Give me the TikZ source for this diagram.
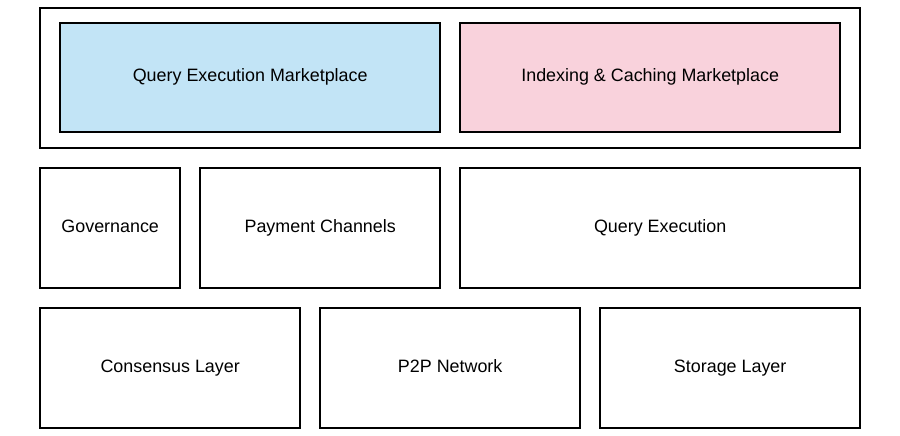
\documentclass[tikz,border=0pt]{standalone}
\usepackage{fontspec}
\setmainfont{Liberation Sans}
\usetikzlibrary{positioning}
\definecolor{queryblue}{RGB}{194,228,246}
\definecolor{indexpink}{RGB}{249,210,220}

\tikzset{
    layer/.style={draw=black, line width=2pt, inner sep=0pt, anchor=north west,
        text height=1.8ex, text depth=.3ex,
        font=\fontsize{17.9}{20}\selectfont}
}

\begin{document}
\begin{tikzpicture}[x=1pt, y=-1pt]
    \useasboundingbox (0.8,0.8) rectangle (900.8,436.8);
    % top: marketplaces
    \node[layer, minimum width=820pt, minimum height=140pt] (market) at (40,8) {};
    \node[layer, fill=queryblue, minimum width=380pt, minimum height=109pt] (qem) at (60,23) {Query Execution Marketplace};
    \node[layer, fill=indexpink, minimum width=380pt, minimum height=109pt] (icm) at (460,23) {Indexing \& Caching Marketplace};

    % middle row
    \node[layer, minimum width=140pt, minimum height=120pt] (gov) at (40,168) {Governance};
    \node[layer, minimum width=240pt, minimum height=120pt] (pay) at (200,168) {Payment Channels};
    \node[layer, minimum width=400pt, minimum height=120pt] (qex) at (460,168) {Query Execution};

    % bottom row
    \node[layer, minimum width=260pt, minimum height=120pt] (cons) at (40,308) {Consensus Layer};
    \node[layer, minimum width=260pt, minimum height=120pt] (p2p) at (320,308) {P2P Network};
    \node[layer, minimum width=260pt, minimum height=120pt] (store) at (600,308) {Storage Layer};
\end{tikzpicture}
\end{document}
